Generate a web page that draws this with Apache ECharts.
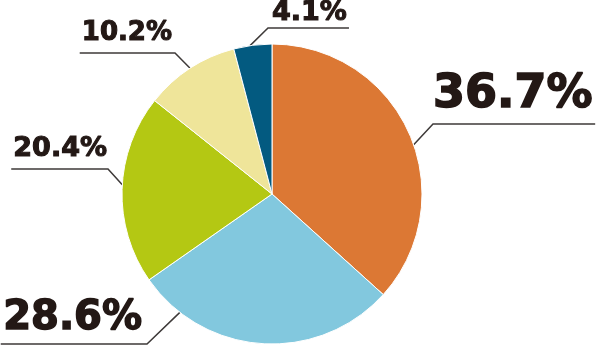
<!DOCTYPE html>
<html><head><meta charset="utf-8">
<script src="https://cdn.jsdelivr.net/npm/echarts@6/dist/echarts.min.js"></script>
<style>html,body{margin:0;padding:0;background:#fff}#c{width:596px;height:348px}</style>
</head><body><div id="c"></div>
<script>
// ---- data ----
const categories = ['A', 'B', 'C', 'D', 'E'];
const values = [36.7, 28.6, 20.4, 10.2, 4.1];

// ---- styles / layout ----
const colors = ['#DC7834', '#82C8DE', '#B4C813', '#EFE59A', '#035A80'];
const fontSizes = [46, 40, 27, 26, 27];
const strokeW = [1.6, 1.5, 1.1, 1.1, 1.1];
const CX = 272, CY = 194, R = 150;
// leader-line knee, side (+1 right / -1 left), rim angle (deg clockwise from 12 o'clock),
// text x offset from knee, text vertical centre
const spots = [
  { knee: [433, 124], side: 1,  ang: 70.8,  off: 0,  ty: 95 },
  { knee: [147, 344], side: -1, ang: 217.9, off: -5, ty: 319 },
  { knee: [108, 169], side: -1, ang: 273.5, off: -1, ty: 149 },
  { knee: [175, 53],  side: -1, ang: 326.9, off: -3, ty: 33 },
  { knee: [268, 28],  side: 1,  ang: 351.6, off: 4,  ty: 13 }
];

const chart = echarts.init(document.getElementById('c'), null, { renderer: 'canvas' });
chart.setOption({
  animation: false,
  backgroundColor: '#fff',
  series: [{
    type: 'pie',
    center: [CX, CY],
    radius: R,
    startAngle: 90,
    clockwise: true,
    avoidLabelOverlap: false,
    itemStyle: { borderColor: '#fff', borderWidth: 1 },
    label: {
      show: true,
      position: 'outside',
      formatter: '{c}%',
      color: '#231815',
      textBorderColor: '#231815',
      fontFamily: 'DejaVu Sans',
      fontWeight: 'bold'
    },
    labelLine: {
      show: true,
      lineStyle: { color: '#3E3A39', width: 1.5 }
    },
    labelLayout: function (p) {
      const s = spots[p.dataIndex];
      const w = p.labelRect.width;
      const a = s.ang * Math.PI / 180;
      const start = [CX + R * Math.sin(a), CY - R * Math.cos(a)];
      const tx = s.knee[0] + s.off;
      const farX = s.side > 0 ? tx + w + 1 : tx - w - 1;
      return {
        x: tx,
        y: s.ty,
        align: s.side > 0 ? 'left' : 'right',
        verticalAlign: 'middle',
        labelLinePoints: [start, s.knee, [farX, s.knee[1]]]
      };
    },
    data: categories.map((c, i) => ({
      name: c,
      value: values[i],
      itemStyle: { color: colors[i] },
      label: { fontSize: fontSizes[i], textBorderWidth: strokeW[i] }
    }))
  }]
});
</script>
</body></html>
